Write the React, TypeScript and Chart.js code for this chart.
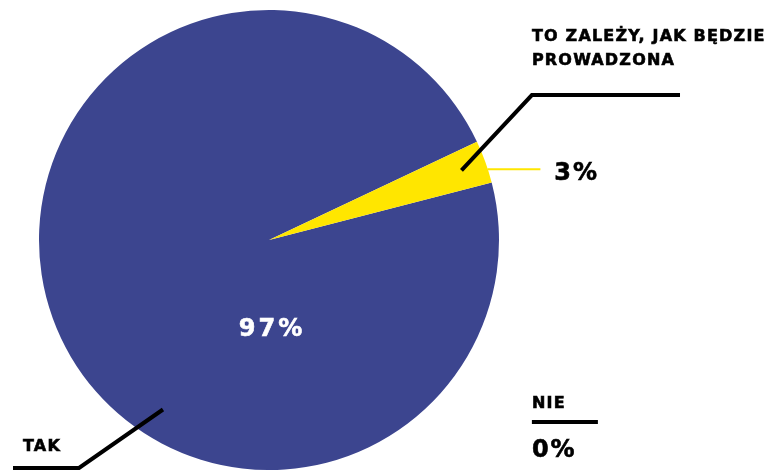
import React, { useEffect, useRef } from "react";
import { Chart, registerables } from "chart.js";

Chart.register(...registerables);

const categories = ["TAK", "TO ZALEŻY, JAK BĘDZIE PROWADZONA", "NIE"];
const values = [97, 3, 0];
const valueLabels = ["97%", "3%", "0%"];
const colors = ["#3c458f", "#ffe600", "#000000"];

const FONT = "'DejaVu Sans', sans-serif";

function boldText(ctx: CanvasRenderingContext2D, t: string, x: number, y: number) {
  ctx.fillText(t, x, y);
  ctx.strokeText(t, x, y);
}

const annotations = {
  id: "annotations",
  afterDraw(chart: any) {
    const ctx = chart.ctx as CanvasRenderingContext2D;
    const arc = chart.getDatasetMeta(0).data[0] as any;
    const cx = arc.x;
    const cy = arc.y;
    const R = arc.outerRadius;
    const px = (f: number) => cx + f * R;
    const py = (f: number) => cy + f * R;
    ctx.save();
    ctx.lineCap = "butt";
    ctx.lineJoin = "miter";

    // yellow slice leader (black)
    const yArc = chart.getDatasetMeta(0).data[1] as any;
    const mid = (yArc.startAngle + yArc.endAngle) / 2;
    const sx = cx + Math.cos(mid) * R * 0.89;
    const sy = cy + Math.sin(mid) * R * 0.89;
    ctx.strokeStyle = "#000";
    ctx.lineWidth = 4;
    ctx.beginPath();
    ctx.moveTo(sx, sy);
    ctx.lineTo(px(1.143), py(-0.63));
    ctx.lineTo(px(1.787), py(-0.63));
    ctx.stroke();

    // yellow short line
    ctx.strokeStyle = "#ffe600";
    ctx.lineWidth = 2;
    ctx.beginPath();
    ctx.moveTo(px(0.95), py(-0.308));
    ctx.lineTo(px(1.18), py(-0.308));
    ctx.stroke();

    // TAK leader
    ctx.strokeStyle = "#000";
    ctx.lineWidth = 4;
    ctx.beginPath();
    ctx.moveTo(px(-0.461), py(0.737));
    ctx.lineTo(px(-0.826), py(0.991));
    ctx.lineTo(px(-1.113), py(0.991));
    ctx.stroke();

    // NIE underline
    ctx.beginPath();
    ctx.moveTo(px(1.143), py(0.791));
    ctx.lineTo(px(1.43), py(0.791));
    ctx.stroke();

    ctx.fillStyle = "#000";
    ctx.strokeStyle = "#000";
    ctx.lineWidth = 0.6;
    ctx.textBaseline = "middle";
    ctx.textAlign = "left";
    ctx.font = `bold 16px ${FONT}`;
    (ctx as any).letterSpacing = "1.2px";
    boldText(ctx, "TO ZALEŻY, JAK BĘDZIE", px(1.143), py(-0.883));
    boldText(ctx, "PROWADZONA", px(1.143), py(-0.778));
    boldText(ctx, categories[0], 23, py(0.899));
    boldText(ctx, categories[2], px(1.143), py(0.711));

    ctx.font = `bold 24px ${FONT}`;
    (ctx as any).letterSpacing = "2px";
    boldText(ctx, valueLabels[1], px(1.24), py(-0.287));
    boldText(ctx, valueLabels[2], px(1.143), py(0.917));
    ctx.fillStyle = "#fff";
    ctx.strokeStyle = "#fff";
    ctx.textAlign = "center";
    (ctx as any).letterSpacing = "3px";
    boldText(ctx, valueLabels[0], cx + 3, py(0.392));
    ctx.restore();
  },
};

export default function App() {
  const ref = useRef<HTMLCanvasElement>(null);
  useEffect(() => {
    document.body.style.margin = "0";
    const chart = new Chart(ref.current!, {
      type: "pie",
      data: {
        labels: categories,
        datasets: [
          {
            data: values,
            backgroundColor: colors,
            borderWidth: 0,
          },
        ],
      },
      options: {
        animation: false,
        responsive: false,
        rotation: 75.5,
        layout: { padding: { left: 39, top: 10, right: 273, bottom: 0 } },
        plugins: {
          legend: { display: false },
          tooltip: { enabled: false },
        },
      },
      plugins: [annotations],
    });
    return () => chart.destroy();
  }, []);
  return (
    <div style={{ width: 772, height: 470, background: "#fff" }}>
      <canvas ref={ref} width={772} height={470} />
    </div>
  );
}
